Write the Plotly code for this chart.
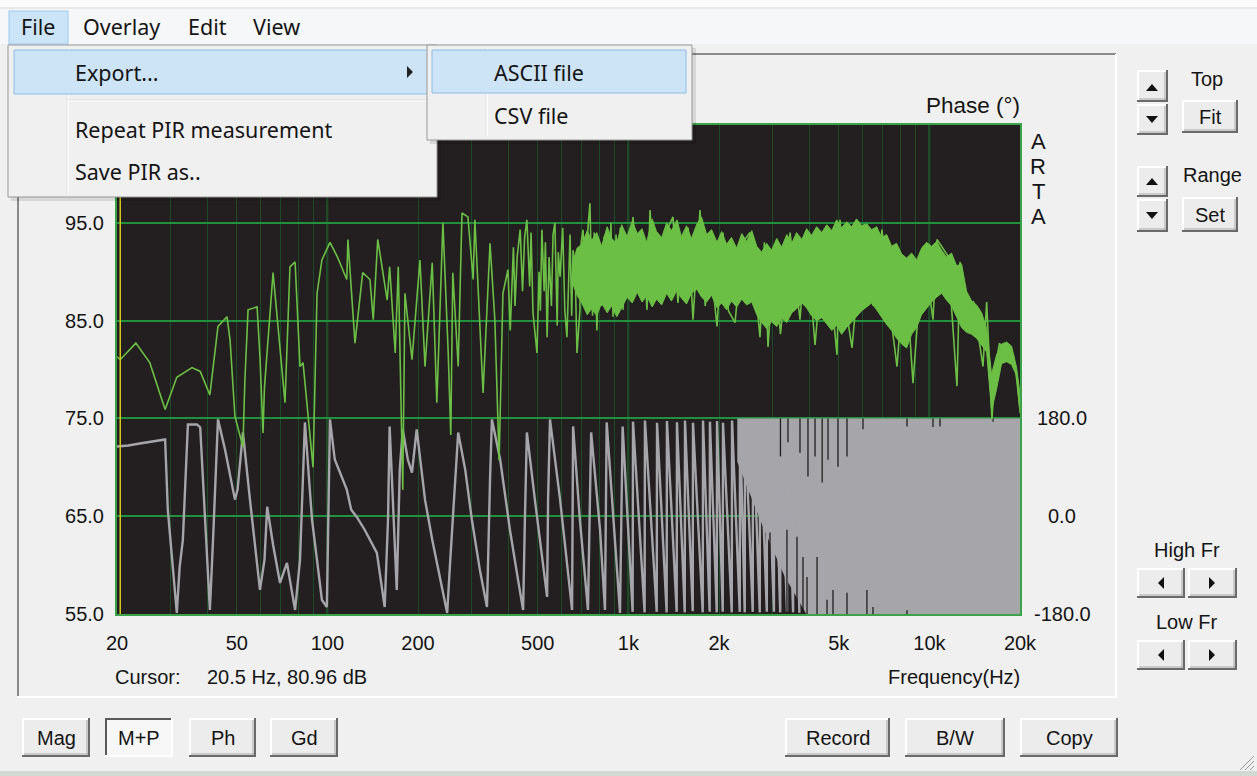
import math
import plotly.graph_objects as go

# ---------------- data ----------------
# magnitude, 20 Hz - 300 Hz
mag_lo_hz = [20, 20.5, 23.1, 25.7, 28.9, 31.6, 35.5, 37.8, 40.7, 41.7,
             43.3, 46.4, 47.5, 49.3, 52.4, 53.2, 54.5, 58.4, 59.7, 61.1,
             61.8, 66.0, 68.5, 72.3, 75.1, 78.1, 81.1, 83.0, 89.6, 92.4,
             95.9, 102, 108, 116, 117, 123.5, 131, 138.5, 142, 147,
             158, 161, 168, 172, 178, 181, 191, 203, 211, 223,
             231, 242, 252, 257, 261, 272, 280, 293]
mag_lo_db = [81.3, 81.0, 82.7, 80.7, 75.9, 79.2, 80.2, 79.8, 77.4, 80.3,
             84.4, 85.4, 83.0, 75.2, 72.1, 78.9, 86.1, 86.4, 81.3, 73.5,
             78.2, 89.9, 84.4, 76.6, 90.5, 91.0, 80.3, 80.7, 70.0, 87.8,
             91.2, 93.0, 91.5, 89.2, 93.3, 82.7, 89.9, 89.2, 85.1, 93.3,
             87.1, 90.5, 81.7, 90.5, 67.7, 87.8, 81.0, 91.2, 80.3, 90.9,
             76.6, 95.0, 81.7, 73.3, 89.9, 80.3, 96.0, 95.6]
# magnitude, 300 Hz - 1 kHz
mag_mid_hz = [305, 309, 329, 347, 360, 372, 383, 398, 405, 415,
              420, 427, 437, 445, 452, 460, 470, 475, 482, 497,
              505, 510, 516, 525, 530, 537, 545, 555, 562, 570,
              580, 585, 593, 605, 615, 625, 640, 648, 655, 665,
              675, 690, 697, 707, 720, 730, 745, 760, 770, 786,
              800, 815, 830, 847, 860, 875, 889, 910, 925, 940,
              960, 980]
mag_mid_db = [89.2, 95.3, 77.6, 92.9, 85.1, 70.7, 87.8, 90.2, 84.0, 92.5,
              86.5, 91.5, 94.3, 88.0, 93.5, 95.3, 88.5, 94.0, 85.8, 81.7,
              90.0, 86.0, 94.3, 88.0, 93.0, 83.3, 91.5, 86.5, 93.8, 95.0,
              84.5, 92.0, 89.5, 94.5, 86.0, 83.3, 93.8, 85.5, 92.2, 90.5,
              81.7, 86.0, 93.0, 94.3, 86.5, 93.5, 97.0, 85.5, 94.0, 84.0,
              92.5, 86.5, 93.5, 94.0, 87.0, 95.0, 85.4, 93.8, 87.0, 94.5,
              86.1, 92.0]
# magnitude, 1 kHz - 20 kHz (spikes)
mag_hi_hz = [1000, 1036, 1080, 1120, 1153, 1180, 1230, 1274, 1330, 1407,
             1460, 1518, 1580, 1639, 1730, 1800, 1866, 1970, 2062, 2150,
             2260, 2400, 2535, 2737, 2830, 2910, 3050, 3200, 3444, 3716,
             3900, 4169, 4500, 4932, 5047, 5300, 5532, 6017, 6500, 6958,
             7400, 7806, 8300, 8822, 9524, 10280, 10600, 11530, 12350, 12640,
             13500, 14000, 15070, 15500, 16140, 16500, 17100, 18000, 19000, 19500,
             20000]
mag_hi_db = [87.5, 95.6, 88.0, 93.0, 86.1, 96.3, 87.5, 88.1, 94.0, 95.6,
             86.8, 91.5, 94.5, 85.1, 96.3, 86.5, 91.5, 84.4, 94.0, 86.0,
             84.8, 93.0, 94.0, 83.3, 93.0, 82.3, 92.0, 83.6, 94.0, 85.1,
             93.6, 82.5, 94.3, 81.5, 95.3, 86.0, 82.2, 94.8, 86.5, 94.3,
             86.0, 80.3, 91.0, 78.6, 92.6, 85.1, 93.3, 91.6, 78.3, 91.0,
             85.0, 87.0, 80.3, 86.9, 74.9, 80.0, 82.7, 81.0, 81.5, 79.0,
             75.9]

# dense part of the magnitude: upper / lower edge of the solid band
env_hz = [650, 675, 700, 730, 755, 785, 815, 850, 880, 915,
          950, 990, 1030, 1070, 1110, 1150, 1200, 1240, 1290, 1340,
          1390, 1450, 1500, 1560, 1620, 1690, 1750, 1820, 1890, 1970,
          2040, 2120, 2200, 2290, 2380, 2470, 2570, 2670, 2770, 2880,
          2990, 3110, 3230, 3360, 3490, 3620, 3770, 3910, 4060, 4220,
          4390, 4560, 4740, 4920, 5110, 5310, 5520, 5730, 5960, 6190,
          6430, 6680, 6940, 7210, 7490, 7780, 8090, 8400, 8730, 9070,
          9420, 9790, 10170, 10570, 10980, 11400, 11850, 12310, 12790, 13290,
          13810, 14350, 14910, 15490, 16090, 16720, 17370, 18050, 18750, 19480,
          20000]
env_hi_db = [90.6, 92.4, 92.8, 94.2, 93.2, 94.0, 92.6, 94.6, 93.4, 92.9,
             94.8, 93.6, 95.2, 93.9, 94.4, 93.0, 95.4, 94.1, 93.5, 95.0,
             94.2, 95.3, 93.6, 94.7, 93.4, 94.9, 95.6, 93.8, 94.3, 93.0,
             94.1, 92.8, 93.5, 92.4, 93.9, 93.1, 94.2, 92.6, 92.0, 92.9,
             92.2, 93.4, 92.5, 93.8, 92.9, 94.0, 93.3, 94.4, 93.7, 94.6,
             94.0, 94.8, 94.2, 95.3, 94.5, 95.1, 94.6, 95.4, 94.7, 94.9,
             94.3, 94.6, 93.5, 93.8, 92.6, 92.9, 91.8, 91.4, 91.9, 91.2,
             92.4, 93.0, 92.6, 93.1, 92.2, 91.5, 91.9, 90.6, 90.8, 88.0,
             87.0, 86.6, 85.8, 84.2, 79.5, 81.5, 82.6, 82.8, 82.4, 80.2,
             77.5]
env_lo_db = [89.0, 87.6, 86.8, 85.6, 86.2, 85.5, 86.8, 85.8, 86.5, 85.4,
             86.3, 87.4, 86.8, 87.9, 86.9, 87.5, 86.4, 87.2, 86.6, 87.8,
             87.0, 88.1, 87.3, 86.7, 87.8, 88.2, 87.4, 86.9, 87.6, 86.3,
             86.8, 86.1, 87.0, 86.4, 87.2, 86.6, 86.9, 85.6, 84.8, 84.2,
             84.9, 84.4, 85.3, 84.8, 85.8, 86.2, 86.8, 86.3, 85.5, 85.0,
             85.3, 84.6, 84.0, 84.5, 83.6, 84.3, 84.9, 85.4, 86.0, 86.4,
             86.8, 86.1, 85.3, 84.6, 84.0, 83.2, 82.6, 82.2, 83.6, 84.3,
             85.6, 86.3, 86.9, 87.4, 87.8, 87.1, 86.5, 85.4, 84.3, 83.8,
             83.6, 83.2, 82.5, 81.8, 75.8, 78.0, 80.6, 80.8, 80.5, 79.4,
             75.5]

# wrapped phase
phase_hz = [20, 21.8, 23.8, 28.9, 29.5, 30.5, 31.6, 32.3, 33.1, 34.4,
            36.9, 37.8, 39.2, 40.7, 41.7, 43.3, 45.7, 49.3, 50.3, 52.4,
            55.3, 59.7, 61.8, 63.1, 66.0, 69.6, 73.4, 78.1, 81.1, 84.2,
            88.9, 95.9, 99.6, 102, 105.8, 116, 120, 125, 133, 146,
            155, 159, 161, 165, 170, 174, 178, 185, 191, 198,
            203, 211, 223, 237, 250, 256, 261, 268, 272, 287,
            302, 321, 339, 347, 352, 375, 404, 430, 447, 453,
            460, 489, 537, 541, 549, 593, 650, 655, 690, 734,
            752, 805, 836, 847, 896, 938, 957,
            1033, 1036, 1132, 1135, 1242, 1245, 1340, 1343, 1447, 1450,
            1539, 1542, 1636, 1639, 1766, 1770, 1862, 1866, 1966, 1970,
            2058, 2062, 2205, 2210, 2344, 2349, 2435, 2440, 2589, 2594,
            2732, 2737, 2883, 2888, 3045, 3050, 3195, 3200, 3365, 3370,
            3525, 3530, 3700]
phase_deg = [128.3, 130.1, 133.8, 141.2, 12.0, -80.3, -178.2, -93.2, -43.4, 168.9,
             168.9, 163.4, -6.5, -172.6, -43.4, 178.2, 122.8, 30.5, 48.9, 154.1,
             30.5, -135.7, -80.3, 17.5, -52.6, -122.8, -85.9, -172.6, -80.3, 172.6,
             -6.5, -154.2, -167.1, 178.2, 104.3, 48.9, 12.0, -0.9, -24.9, -67.4,
             -167.1, -6.5, 165.2, 30.5, -135.7, 85.8, 159.7, 104.3, 80.3, 159.7,
             109.8, 30.5, -43.4, -117.2, -178.2, -80.3, -6.5, 85.8, 154.1, 85.8,
             -6.5, -98.8, -167.1, 67.4, 178.2, 104.3, -24.9, -117.2, -172.6, -6.5,
             154.1, 30.5, -148.6, 30.5, 178.2, 30.5, -172.6, 165.2, -6.5, -172.6,
             154.1, -24.9, -172.6, 172.6, -24.9, -178.2, 165.2,
             -176, 174, -177, 176, -176, 172, -177, 175, -176, 173,
             -177, 176, -175, 172, -177, 176, -176, 174, -177, 175,
             -176, 172, -177, 176, -176, 174, -177, 175, -176, 172,
             -177, 176, -176, 174, -176, 176, -177, 174, -176, 175,
             -177, 174, -178]

# region where the phase lines merge into a solid area
phase_fill_hz = [2300, 20000, 20000, 3900, 3300, 2800, 2300]
phase_fill_deg = [180, 180, -180, -180, -110, -20, 100]
# dark gaps left inside that area (from the top / from the bottom)
gap_top_hz = [3200, 3390, 3716, 3950, 4169, 4404, 4605, 4970, 5324, 6017, 8426, 10280, 10846, 16272]
gap_top_deg = [110, 136, 117, 73, 110, 62, 104, 91, 110, 160, 165, 164, 165, 174]
gap_bot_hz = [2954, 3117, 3364, 3632, 3803, 3922, 4234, 4570, 4784, 5324, 6202, 6494, 8426]
gap_bot_deg = [-30, -93, -25, -38, -75, -112, -75, -154, -136, -141, -136, -167, -173]

cursor_hz = 20.5
cursor_db = 80.96

grid_hz = [20, 30, 40, 50, 60, 70, 80, 90, 100, 200, 300, 400, 500, 600, 700, 800, 900,
           1000, 2000, 3000, 4000, 5000, 6000, 7000, 8000, 9000, 10000, 20000]
label_hz = {20: "20", 50: "50", 100: "100", 200: "200", 500: "500", 1000: "1k",
            2000: "2k", 5000: "5k", 10000: "10k", 20000: "20k"}
major_hz = [100, 1000, 10000]
mag_ticks = [55, 65, 75, 85, 95]
phase_ticks = [-180, 0, 180]

assert len(mag_lo_hz) == len(mag_lo_db)
assert len(mag_mid_hz) == len(mag_mid_db)
assert len(mag_hi_hz) == len(mag_hi_db)
assert len(env_hz) == len(env_hi_db) == len(env_lo_db)
assert len(phase_hz) == len(phase_deg)
assert len(gap_top_hz) == len(gap_top_deg) and len(gap_bot_hz) == len(gap_bot_deg)

mag_hz = mag_lo_hz + mag_mid_hz + mag_hi_hz
mag_db = mag_lo_db + mag_mid_db + mag_hi_db

# ---------------- style ----------------
W, H = 1257, 776
L, R, T, B = 117, 1020, 125, 614
PW, PH = R - L, B - T
BG = "#f0f0f0"
PLOT_BG = "#231f20"
GREEN = "#6cbf45"
GRAY = "#a5a5aa"
GRID_BRIGHT = "#21913d"
GRID_DIM = "#1b4a26"
BORDER = "#3aa34a"
AXF = "Liberation Sans"
MENUF = "Noto Sans"
TXT = "#141414"

fig = go.Figure()

# phase (base axes)
fig.add_trace(go.Scatter(x=phase_fill_hz, y=phase_fill_deg, mode="lines", fill="toself",
                         fillcolor=GRAY, line=dict(width=0, color=GRAY),
                         hoverinfo="skip", showlegend=False))
fig.add_trace(go.Scatter(x=phase_hz, y=phase_deg, mode="lines",
                         line=dict(width=2.4, color=GRAY), showlegend=False))
gx, gy = [], []
for f, d in zip(gap_top_hz, gap_top_deg):
    gx += [f, f, None]
    gy += [180, d, None]
for f, d in zip(gap_bot_hz, gap_bot_deg):
    gx += [f, f, None]
    gy += [-180, d, None]
fig.add_trace(go.Scatter(x=gx, y=gy, mode="lines", line=dict(width=1.3, color=PLOT_BG),
                         hoverinfo="skip", showlegend=False))
# magnitude (overlay axis, drawn on top)
fig.add_trace(go.Scatter(x=env_hz, y=env_lo_db, yaxis="y2", mode="lines",
                         line=dict(width=1, color=GREEN), showlegend=False))
fig.add_trace(go.Scatter(x=env_hz, y=env_hi_db, yaxis="y2", mode="lines", fill="tonexty",
                         fillcolor=GREEN, line=dict(width=1, color=GREEN), showlegend=False))
fig.add_trace(go.Scatter(x=mag_hz, y=mag_db, yaxis="y2", mode="lines",
                         line=dict(width=1.6, color=GREEN), showlegend=False))

shapes = []
annos = []

def xp(x):
    return (x - L) / PW

def yp(y):
    return (B - y) / PH

def rect(x0, y0, x1, y1, fill=None, line=None, lw=1, layer="above"):
    shapes.append(dict(type="rect", xref="paper", yref="paper",
                       x0=xp(x0), x1=xp(x1), y0=yp(y1), y1=yp(y0),
                       fillcolor=fill or "rgba(0,0,0,0)",
                       line=dict(color=line or "rgba(0,0,0,0)", width=lw if line else 0),
                       layer=layer))

def seg(x0, y0, x1, y1, color, w=1):
    shapes.append(dict(type="line", xref="paper", yref="paper",
                       x0=xp(x0), x1=xp(x1), y0=yp(y0), y1=yp(y1),
                       line=dict(color=color, width=w), layer="above"))

def tri(pts, color="#111111"):
    path = "M " + " L ".join(f"{xp(a):.5f},{yp(b):.5f}" for a, b in pts) + " Z"
    shapes.append(dict(type="path", xref="paper", yref="paper", path=path,
                       fillcolor=color, line=dict(color=color, width=0), layer="above"))

def text(x, y, s, size=21, anchor="center", family=AXF, color=TXT):
    annos.append(dict(xref="paper", yref="paper", x=xp(x), y=yp(y), text=s,
                      showarrow=False, xanchor=anchor, yanchor="middle",
                      font=dict(family=family, size=size, color=color)))

def button(x0, y0, x1, y1, label=None, pressed=False, size=21):
    if pressed:
        rect(x0, y0, x1, y1, fill="#f7f7f7")
        seg(x0, y0 + 1, x1, y0 + 1, "#5a5a5a", 2)
        seg(x0 + 1, y0, x0 + 1, y1, "#5a5a5a", 2)
        seg(x0, y1 - 1, x1, y1 - 1, "#ffffff", 2)
        seg(x1 - 1, y0, x1 - 1, y1, "#ffffff", 2)
    else:
        rect(x0, y0, x1, y1, fill="#ececec")
        seg(x0, y0 + 1, x1, y0 + 1, "#ffffff", 2)
        seg(x0 + 1, y0, x0 + 1, y1, "#ffffff", 2)
        seg(x0, y1 - 1, x1, y1 - 1, "#6a6a6a", 2)
        seg(x1 - 1, y0, x1 - 1, y1, "#6a6a6a", 2)
        seg(x0 + 2, y1 - 3, x1 - 2, y1 - 3, "#a8a8a8", 1)
        seg(x1 - 3, y0 + 2, x1 - 3, y1 - 2, "#a8a8a8", 1)
    if label:
        text((x0 + x1) / 2, (y0 + y1) / 2, label, size=size)

# bright major gridlines + cursor (data coords)
for f in major_hz:
    shapes.append(dict(type="line", xref="x", yref="paper", x0=f, x1=f, y0=0, y1=1,
                       line=dict(color=GRID_BRIGHT, width=1.5), layer="below"))
shapes.append(dict(type="line", xref="x", yref="paper", x0=cursor_hz, x1=cursor_hz, y0=0, y1=1,
                   line=dict(color="#d8cc1c", width=1.5), layer="above"))

# window chrome
rect(0, 0, W, 9, fill="#fbfbfb")
rect(0, 9, W, 44, fill="#f6f7f8")
seg(0, 8, W, 8, "#d6d6d6", 1)
seg(17, 54, 1116, 54, "#8a8a8a", 2)
seg(18, 54, 18, 697, "#8a8a8a", 2)
seg(17, 697, 1117, 697, "#ffffff", 2)
seg(1116, 54, 1116, 697, "#ffffff", 2)
rect(0, 771, W, 776, fill="#d2d8d2")
for k in range(3):
    seg(1240 + 5 * k, 770, 1254, 756 + 5 * k, "#9a9a9a", 1)

# menu bar
MS = 21.5
rect(9, 11, 68, 44, fill="#cce4f7", line="#99c9ef")
text(38, 27, "File", size=MS, family=MENUF)
text(81, 27, "Overlay", size=MS, family=MENUF, anchor="left")
text(186, 27, "Edit", size=MS, family=MENUF, anchor="left")
text(251, 27, "View", size=MS, family=MENUF, anchor="left")

# dropdown
rect(11, 48, 441, 201, fill="rgba(0,0,0,0.10)")
rect(8, 45, 437, 197, fill="#f0f0f0", line="#979797")
seg(67, 48, 67, 194, "#e0e0e0", 1)
seg(68, 48, 68, 194, "#ffffff", 1)
seg(67, 100, 431, 100, "#d7d7d7", 1)
seg(67, 101, 431, 101, "#ffffff", 1)
rect(14, 50, 430, 94, fill="#cde3f6", line="#8dbde9")
tri([(407, 66), (407, 78), (413, 72)], "#202020")
text(73, 72, "Export...", size=MS, family=MENUF, anchor="left")
text(73, 129, "Repeat PIR measurement", size=MS, family=MENUF, anchor="left")
text(73, 171, "Save PIR as..", size=MS, family=MENUF, anchor="left")

# submenu
rect(430, 48, 696, 144, fill="rgba(0,0,0,0.10)")
rect(427, 45, 692, 140, fill="#f0f0f0", line="#979797")
seg(486, 48, 486, 136, "#e0e0e0", 1)
seg(487, 48, 487, 136, "#ffffff", 1)
rect(432, 50, 686, 93, fill="#cde3f6", line="#8dbde9")
text(492, 72, "ASCII file", size=MS, family=MENUF, anchor="left")
text(492, 115, "CSV file", size=MS, family=MENUF, anchor="left")

# right-side controls
button(1137, 70, 1168, 102)
button(1137, 104, 1168, 135)
tri([(1146, 91), (1158, 91), (1152, 84)])
tri([(1146, 116), (1158, 116), (1152, 123)])
text(1207, 79, "Top", size=20)
button(1182, 100, 1238, 133, "Fit", size=20)
button(1137, 166, 1168, 197)
button(1137, 199, 1168, 232)
tri([(1146, 185), (1158, 185), (1152, 178)])
tri([(1146, 212), (1158, 212), (1152, 219)])
text(1212, 175, "Range", size=20)
button(1182, 197, 1238, 232, "Set", size=20)
text(1187, 550, "High Fr", size=20)
button(1137, 568, 1185, 598)
button(1188, 568, 1237, 598)
tri([(1164, 577), (1164, 589), (1158, 583)])
tri([(1209, 577), (1209, 589), (1215, 583)])
text(1186, 622, "Low Fr", size=20)
button(1137, 640, 1185, 670)
button(1188, 640, 1237, 670)
tri([(1164, 649), (1164, 661), (1158, 655)])
tri([(1209, 649), (1209, 661), (1215, 655)])

# bottom buttons
button(22, 718, 90, 757, "Mag", size=20)
button(105, 718, 173, 757, "M+P", pressed=True, size=20)
button(189, 718, 256, 757, "Ph", size=20)
button(270, 718, 338, 757, "Gd", size=20)
button(785, 718, 890, 757, "Record", size=20)
button(905, 718, 1005, 757, "B/W", size=20)
button(1020, 718, 1118, 757, "Copy", size=20)

# chart texts
text(113, 677, "Cursor:", size=20, anchor="left")
text(205, 677, f"{cursor_hz} Hz, {cursor_db:.2f} dB", size=20, anchor="left")
text(1022, 677, "Frequency(Hz)", size=20, anchor="right")
text(1022, 105, "Phase (°)", size=22.5, anchor="right")
for i, ch in enumerate("ARTA"):
    text(1038, 141 + 25 * i, ch, size=22)

# right axis labels (centered, like the original)
for v in phase_ticks:
    annos.append(dict(xref="paper", yref="y", x=xp(1062), y=v, text=f"{v:.1f}",
                      showarrow=False, xanchor="center", yanchor="middle",
                      font=dict(family=AXF, size=20, color=TXT)))

fig.update_layout(
    width=W, height=H,
    margin=dict(l=L, r=W - R, t=T, b=H - B, pad=0),
    paper_bgcolor=BG, plot_bgcolor=PLOT_BG,
    showlegend=False,
    font=dict(family=AXF, size=20, color=TXT),
    xaxis=dict(type="log", range=[math.log10(20), math.log10(20000)],
               tickvals=grid_hz, ticktext=[label_hz.get(f, "") for f in grid_hz],
               showgrid=True, gridcolor=GRID_DIM, gridwidth=1,
               showline=True, mirror=True, linecolor=BORDER, linewidth=2,
               ticks="", ticklabelstandoff=10, zeroline=False,
               tickfont=dict(family=AXF, size=20, color=TXT)),
    yaxis=dict(range=[-180, 720], showgrid=False, zeroline=False, showticklabels=False,
               ticks="", showline=True, mirror=True, linecolor=BORDER, linewidth=2, side="right"),
    yaxis2=dict(range=[55, 105], overlaying="y", side="left",
                tickvals=mag_ticks, ticktext=[f"{v:.1f}" for v in mag_ticks],
                showgrid=True, gridcolor=GRID_BRIGHT, gridwidth=1.5, zeroline=False,
                ticks="", ticklabelstandoff=12, showline=False,
                tickfont=dict(family=AXF, size=20, color=TXT)),
    shapes=shapes, annotations=annos,
)

fig.write_html("out.html")
